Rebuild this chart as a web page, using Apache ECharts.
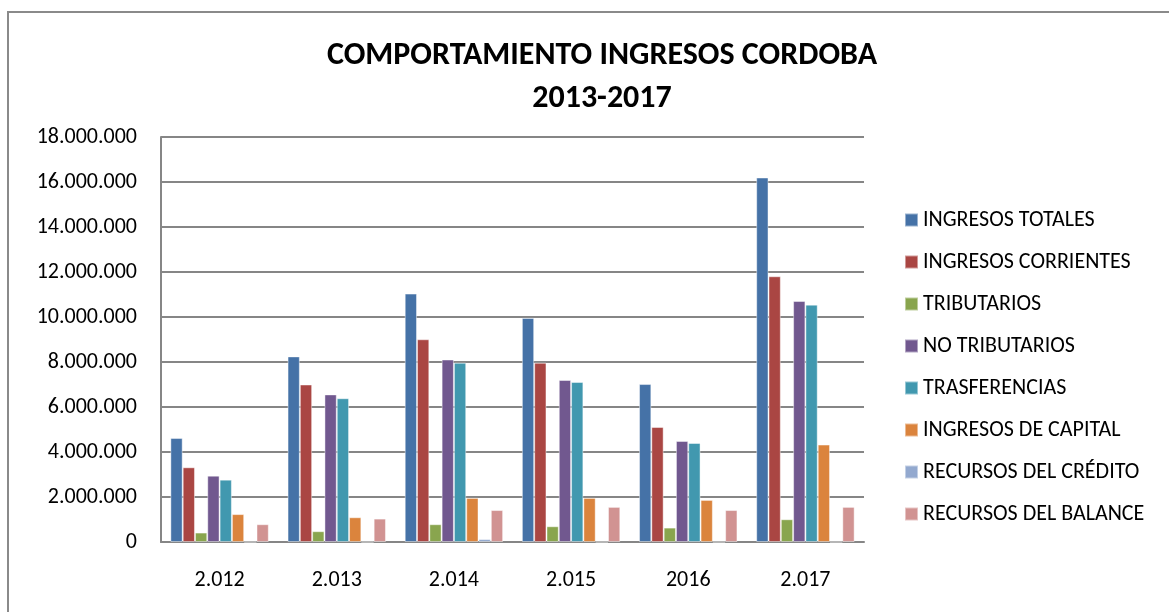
<!DOCTYPE html>
<html>
<head>
<meta charset="utf-8">
<script src="https://cdn.jsdelivr.net/npm/echarts@6/dist/echarts.min.js"></script>
<style>
  html, body { margin: 0; padding: 0; background: #fff; }
  #chart { width: 1169px; height: 612px; }
</style>
</head>
<body>
<div id="chart"></div>
<script>
// categorias (años)
const years = ['2.012', '2.013', '2.014', '2.015', '2016', '2.017'];

// valores por serie
const ingresosTotales     = [4620000, 8250000, 11040000, 9960000, 7020000, 16200000];
const ingresosCorrientes  = [3320000, 7000000, 9010000, 7970000, 5110000, 11810000];
const tributarios         = [420000, 480000, 790000, 700000, 640000, 1010000];
const noTributarios       = [2950000, 6560000, 8110000, 7200000, 4490000, 10710000];
const trasferencias       = [2770000, 6390000, 7970000, 7110000, 4400000, 10550000];
const ingresosCapital     = [1240000, 1100000, 1960000, 1960000, 1870000, 4330000];
const recursosCredito     = [0, 0, 130000, 0, 0, 0];
const recursosBalance     = [790000, 1040000, 1420000, 1560000, 1420000, 1560000];

const yTicks = [0, 2000000, 4000000, 6000000, 8000000, 10000000, 12000000, 14000000, 16000000, 18000000];

const FONT = 'Carlito, "Liberation Sans Narrow", Lato, "Open Sans", sans-serif';

const seriesDefs = [
  { name: 'INGRESOS TOTALES',      data: ingresosTotales,    color: '#4572A7' },
  { name: 'INGRESOS CORRIENTES',   data: ingresosCorrientes, color: '#AA4643' },
  { name: 'TRIBUTARIOS',           data: tributarios,        color: '#89A54E' },
  { name: 'NO TRIBUTARIOS',        data: noTributarios,      color: '#71588F' },
  { name: 'TRASFERENCIAS',         data: trasferencias,      color: '#4198AF' },
  { name: 'INGRESOS DE CAPITAL',   data: ingresosCapital,    color: '#DB843D' },
  { name: 'RECURSOS DEL CRÉDITO',  data: recursosCredito,    color: '#93A9CF' },
  { name: 'RECURSOS DEL BALANCE',  data: recursosBalance,    color: '#D19392' }
];

// separador de miles con punto
function fmt(v) {
  return String(v).replace(/\B(?=(\d{3})+(?!\d))/g, '.');
}

let option = {
  animation: false,
  textStyle: { fontFamily: FONT },
  title: {
    text: 'COMPORTAMIENTO INGRESOS CORDOBA\n2013-2017',
    left: 597,
    top: 29,
    textAlign: 'center',
    textStyle: {
      fontFamily: FONT,
      fontSize: 32,
      fontWeight: 'bold',
      color: '#000',
      lineHeight: 43
    }
  },
  legend: {
    orient: 'vertical',
    left: 899,
    top: 204,
    itemWidth: 13,
    itemHeight: 13,
    itemGap: 20,
    icon: 'rect',
    textStyle: { fontFamily: FONT, fontSize: 22, lineHeight: 20, color: '#000' },
    data: seriesDefs.map(s => s.name)
  },
  grid: {
    left: 161,
    top: 137,
    width: 703,
    height: 405
  },
  xAxis: {
    type: 'category',
    data: years,
    axisLine: { lineStyle: { color: '#868686', width: 2 } },
    axisTick: { show: false },
    axisLabel: { fontFamily: FONT, fontSize: 22, color: '#000', margin: 27 }
  },
  yAxis: {
    type: 'value',
    min: 0,
    max: 18000000,
    interval: 2000000,
    axisLine: { show: true, lineStyle: { color: '#868686', width: 2 } },
    axisTick: { show: false },
    splitLine: { lineStyle: { color: '#868686', width: 2 } },
    axisLabel: {
      fontFamily: FONT, fontSize: 22, color: '#000', margin: 24,
      formatter: v => yTicks.indexOf(v) >= 0 ? fmt(v) : ''
    }
  },
  series: seriesDefs.map(s => ({
    name: s.name,
    type: 'bar',
    data: s.data,
    barGap: '0%',
    barCategoryGap: '16%',
    itemStyle: { color: s.color, borderColor: 'rgba(255,255,255,0.45)', borderWidth: 1 }
  })),
  graphic: [
    {
      type: 'rect',
      shape: { x: 8, y: 12, width: 1200, height: 700 },
      style: { fill: 'none', stroke: '#8a8a8a', lineWidth: 2 },
      silent: true
    }
  ]
};

let myChart = echarts.init(document.getElementById('chart'));
myChart.setOption(option);
</script>
</body>
</html>
